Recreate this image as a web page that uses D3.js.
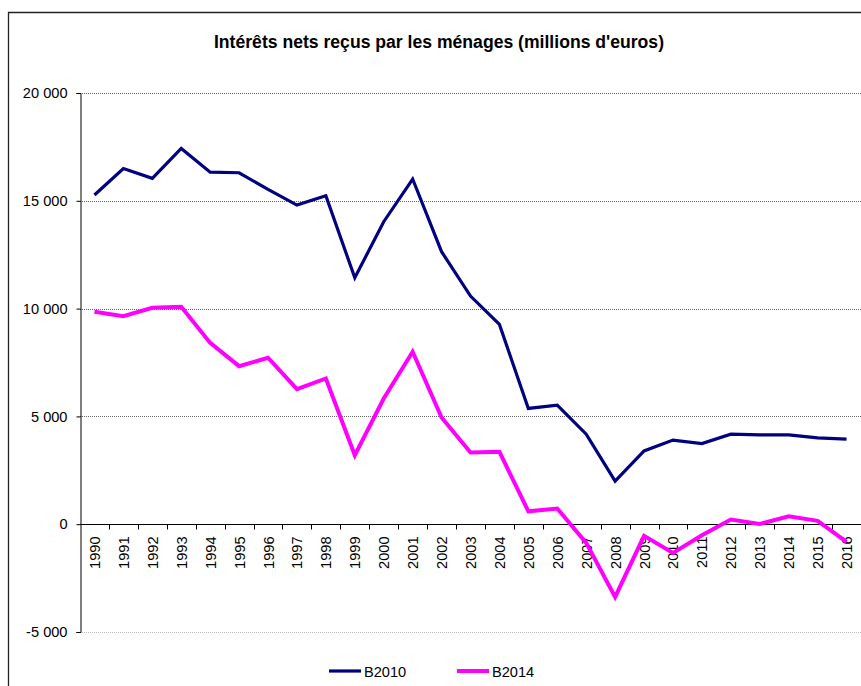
<!DOCTYPE html>
<html>
<head>
<meta charset="utf-8">
<script src="https://cdn.jsdelivr.net/npm/d3@7"></script>
<style>
  body { margin: 0; background: #fff; }
  svg { display: block; font-family: Arial, "Liberation Sans", sans-serif; }
</style>
</head>
<body>
<svg id="chart" width="861" height="686"></svg>
<script>
// chart values
const years = ['1990','1991','1992','1993','1994','1995','1996','1997','1998','1999','2000','2001','2002','2003',
  '2004','2005','2006','2007','2008','2009','2010','2011','2012','2013','2014','2015','2016'];
const b2010 = [15270, 16500, 16040, 17430, 16330, 16300, 15530, 14800, 15230, 11430, 14030, 16010, 12640, 10580,
  9265, 5370, 5520, 4175, 1995, 3400, 3900, 3740, 4175, 4145, 4145, 4005, 3945];
const b2014 = [9850, 9650, 10040, 10085, 8410, 7330, 7720, 6265, 6760, 3200, 5830, 8000, 4950, 3325,
  3355, 600, 725, -865, -3375, -540, -1330, -510, 215, 10, 370, 155, -820];
const yTicks = [-5000, 0, 5000, 10000, 15000, 20000];
const seriesNames = ['B2010', 'B2014'];
const seriesColors = ['#000080', '#ff00ff'];

const svg = d3.select('#chart');
const plotL = 80, plotR = 861, plotT = 93, plotB = 632;
const fs = 14.6;

// outer frame of the chart area
svg.append('path')
  .attr('d', 'M8.5,700 V12.5 H870')
  .attr('fill', 'none').attr('stroke', '#222').attr('stroke-width', 1.3);

svg.append('text')
  .attr('x', 439).attr('y', 48)
  .attr('text-anchor', 'middle')
  .attr('font-weight', 'bold').attr('font-size', 17.6)
  .text("Intérêts nets reçus par les ménages (millions d'euros)");

const x = d3.scaleBand().domain(years).range([plotL, plotR]);
const y = d3.scaleLinear().domain([-5000, 20000]).range([plotB, plotT]);

const loc = d3.formatLocale({ decimal: ',', thousands: ' ', grouping: [3], currency: ['', ''], minus: '-' });
const fmt = loc.format(',d');

// gridlines
svg.append('g').selectAll('line')
  .data(yTicks.filter(d => d !== 0))
  .join('line')
  .attr('x1', plotL).attr('x2', plotR)
  .attr('y1', d => Math.round(y(d)) + 0.5).attr('y2', d => Math.round(y(d)) + 0.5)
  .attr('stroke', d => d < 0 ? '#bbb' : '#666')
  .attr('stroke-dasharray', '1,1');

// y axis
const yAxis = svg.append('g')
  .attr('transform', `translate(${plotL + 0.5},0)`)
  .call(d3.axisLeft(y).tickValues(yTicks).tickFormat(fmt).tickSize(4).tickPadding(9));
yAxis.select('.domain').attr('stroke', '#000');
yAxis.selectAll('.tick text').attr('font-size', fs).attr('fill', '#000')
  .attr('font-family', 'Arial, "Liberation Sans", sans-serif');

// x axis at zero, ticks between categories
const xg = svg.append('g').attr('transform', `translate(0,${Math.round(y(0)) + 0.5})`);
xg.append('line').attr('x1', plotL).attr('x2', plotR).attr('stroke', '#000');
xg.selectAll('line.tk')
  .data(years.slice(1))
  .join('line')
  .attr('class', 'tk')
  .attr('x1', d => Math.round(x(d)) + 0.5).attr('x2', d => Math.round(x(d)) + 0.5)
  .attr('y1', 0).attr('y2', 5)
  .attr('stroke', '#000');
xg.selectAll('text')
  .data(years)
  .join('text')
  .attr('transform', d => `translate(${x(d) + x.bandwidth() / 2 + 5.5},${12}) rotate(-90)`)
  .attr('text-anchor', 'end')
  .attr('font-size', fs)
  .text(d => d);

// series lines
const line = d3.line()
  .x((d, i) => x(years[i]) + x.bandwidth() / 2)
  .y(d => y(d));

[b2010, b2014].forEach((vals, k) => {
  svg.append('path')
    .datum(vals)
    .attr('fill', 'none')
    .attr('stroke', seriesColors[k])
    .attr('stroke-width', k === 0 ? 3.2 : 4)
    .attr('stroke-linejoin', 'miter')
    .attr('d', line);
});

// legend
const leg = svg.append('g').attr('transform', 'translate(329,671)');
seriesNames.forEach((name, k) => {
  const g = leg.append('g').attr('transform', `translate(${k * 128},0)`);
  g.append('line').attr('x1', 0).attr('x2', 32).attr('y1', 0).attr('y2', 0)
    .attr('stroke', seriesColors[k]).attr('stroke-width', k === 0 ? 3.2 : 4);
  g.append('text').attr('x', 35).attr('y', 5.5).attr('font-size', fs).text(name);
});
</script>
</body>
</html>
